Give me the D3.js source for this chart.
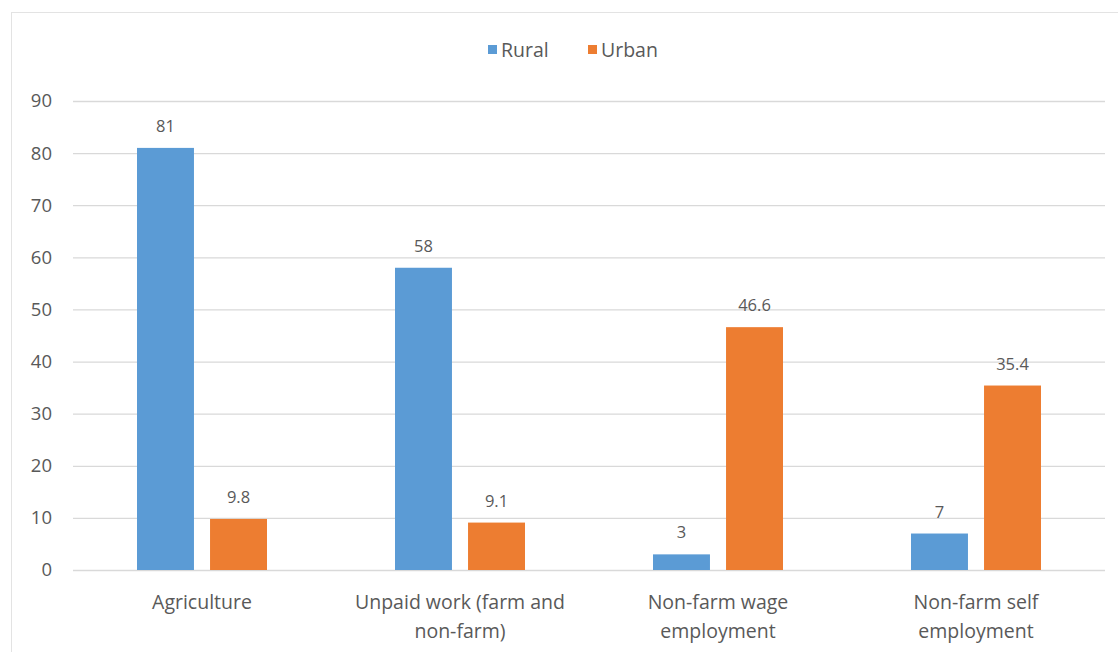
<!DOCTYPE html>
<html>
<head>
<meta charset="utf-8">
<script src="https://cdn.jsdelivr.net/npm/d3@7"></script>
<style>
  body { margin: 0; background: #fff; }
  text { font-family: "Open Sans", sans-serif; fill: #595959; }
</style>
</head>
<body>
<svg id="chart"></svg>
<script>
// Chart data
const categories = [
  ["Agriculture"],
  ["Unpaid work (farm and", "non-farm)"],
  ["Non-farm wage", "employment"],
  ["Non-farm self", "employment"]
];
const seriesNames = ["Rural", "Urban"];
const rural = [81, 58, 3, 7];
const urban = [9.8, 9.1, 46.6, 35.4];
const yTicks = [0, 10, 20, 30, 40, 50, 60, 70, 80, 90];

const colors = ["#5B9BD5", "#ED7D31"];
const width = 1118, height = 652;
const margin = {top: 101, right: 13, bottom: 82, left: 73};
const innerW = width - margin.left - margin.right;
const innerH = height - margin.top - margin.bottom;

const svg = d3.select("#chart")
    .attr("width", width)
    .attr("height", height);

// outer frame
svg.append("rect")
    .attr("x", 11.5).attr("y", 12.5)
    .attr("width", width).attr("height", height)
    .attr("fill", "none")
    .attr("stroke", "#e3e3e3");

const chart = svg.append("g")
    .attr("transform", `translate(${margin.left},${margin.top})`);

const x0 = d3.scaleBand()
    .domain(d3.range(categories.length))
    .range([0, innerW]);

const x1 = d3.scaleBand()
    .domain(seriesNames)
    .range([x0.bandwidth() / 2 - 65, x0.bandwidth() / 2 + 65])
    .paddingInner(0.22);

const y = d3.scaleLinear()
    .domain([0, 90])
    .range([innerH, 0]);

// gridlines + y labels
const yAxis = d3.axisLeft(y)
    .tickValues(yTicks)
    .tickSize(-innerW)
    .tickPadding(21);

const yAxisG = chart.append("g").call(yAxis);
yAxisG.select(".domain").remove();
yAxisG.selectAll(".tick line").attr("stroke", "#d9d9d9").attr("stroke-width", 1.3);
yAxisG.selectAll(".tick text")
    .style("font-size", "18.5px")
    .style("fill", "#595959")
    .style("font-family", "'Open Sans', sans-serif");

const rows = categories.map((c, i) => ({i, values: [rural[i], urban[i]]}));

const groups = chart.selectAll(".group")
    .data(rows)
  .join("g")
    .attr("class", "group")
    .attr("transform", d => `translate(${x0(d.i)},0)`);

groups.selectAll("rect")
    .data(d => d.values.map((v, k) => ({k, v})))
  .join("rect")
    .attr("x", d => x1(seriesNames[d.k]))
    .attr("width", x1.bandwidth())
    .attr("y", d => y(d.v))
    .attr("height", d => innerH - y(d.v))
    .attr("fill", d => colors[d.k]);

groups.selectAll(".value")
    .data(d => d.values.map((v, k) => ({k, v})))
  .join("text")
    .attr("class", "value")
    .attr("x", d => x1(seriesNames[d.k]) + x1.bandwidth() / 2)
    .attr("y", d => y(d.v) - 16)
    .attr("text-anchor", "middle")
    .style("font-size", "16.5px")
    .text(d => d.v);

// category labels
groups.append("text")
    .attr("x", x0.bandwidth() / 2)
    .attr("y", innerH + 39)
    .attr("text-anchor", "middle")
    .style("font-size", "19.5px")
    .selectAll("tspan")
    .data(d => categories[d.i])
  .join("tspan")
    .attr("x", x0.bandwidth() / 2)
    .attr("dy", (d, j) => j === 0 ? 0 : 29)
    .text(d => d);

// legend
const legend = svg.append("g")
    .attr("transform", "translate(488,50)");
const legendX = [0, 100];
const items = legend.selectAll("g")
    .data(seriesNames)
  .join("g")
    .attr("transform", (d, i) => `translate(${legendX[i]},0)`);
items.append("rect")
    .attr("x", 0).attr("y", -5)
    .attr("width", 9).attr("height", 9)
    .attr("fill", (d, i) => colors[i]);
items.append("text")
    .attr("x", 13)
    .attr("y", 7)
    .style("font-size", "19.5px")
    .text(d => d);
</script>
</body>
</html>
